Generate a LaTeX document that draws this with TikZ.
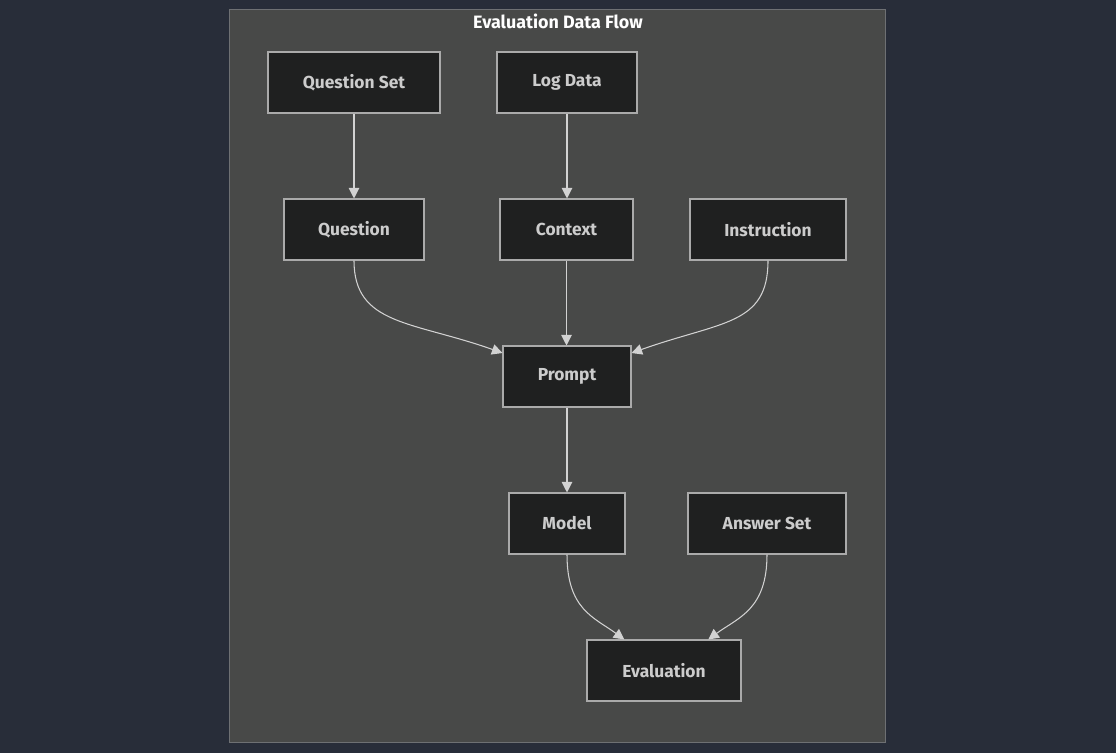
\documentclass[tikz,border=0pt]{standalone}
\usepackage{fontspec}
\setmainfont{Fira Sans}
\usepackage{xcolor}
\definecolor{pagebg}{RGB}{40, 45, 57}
\definecolor{clusterbg}{RGB}{72, 73, 72}
\definecolor{clusterline}{RGB}{110, 112, 115}
\definecolor{boxfill}{RGB}{31, 32, 32}
\definecolor{boxline}{RGB}{170, 170, 170}
\definecolor{boxtext}{RGB}{204, 204, 204}
\definecolor{edgeline}{RGB}{210, 210, 210}
\usepackage{tikz}
\usetikzlibrary{arrows.meta, positioning}

\begin{document}
\begin{tikzpicture}[x=0.02cm, y=-0.02cm,
  flowbox/.style={draw=boxline, fill=boxfill, line width=0.6pt,
              text=boxtext, align=center, minimum height=1.22cm,
              inner sep=0pt, font=\fontsize{9.9}{12}\selectfont\bfseries},
  flowarr/.style={-{Triangle[length=6pt, width=6pt]}, edgeline, line width=0.6pt}
]

  % ── Page and cluster ──
  \useasboundingbox[fill=pagebg] (0,0) rectangle (1116,753);
  \node[draw=clusterline, fill=clusterbg, line width=0.6pt, minimum width=13.14cm,
        minimum height=14.68cm, inner sep=0pt] (cluster) at (557.5,376) {};
  \node[text=white, font=\fontsize{10.2}{12}\selectfont\bfseries] (title) at (558,21) {Evaluation Data Flow};

  % ── Sources ──
  \node[flowbox, minimum width=3.44cm] (qset)   at (354,82.5)  {Question Set};
  \node[flowbox, minimum width=2.80cm] (logd)   at (567,82.5)  {Log Data};

  % ── Prompt parts ──
  \node[flowbox, minimum width=2.80cm] (quest)  at (354,229.5) {Question};
  \node[flowbox, minimum width=2.66cm] (ctx)    at (566.5,229.5) {Context};
  \node[flowbox, minimum width=3.12cm] (instr)  at (768,229.5) {Instruction};
  \node[flowbox, minimum width=2.56cm] (prompt) at (567,376.5) {Prompt};

  % ── Scoring ──
  \node[flowbox, minimum width=2.32cm] (model)  at (567,523.5) {Model};
  \node[flowbox, minimum width=3.16cm] (aset)   at (767,523.5) {Answer Set};
  \node[flowbox, minimum width=3.08cm] (evalu)  at (664,670.5) {Evaluation};

  % ── Arrows ──
  \draw[flowarr] (qset.south) -- (quest.north);
  \draw[flowarr] (logd.south) -- (logd.south |- ctx.north);
  \draw[flowarr] (ctx.south) -- (ctx.south |- prompt.north);
  \draw[flowarr] (prompt.south) -- (model.north);
  \draw[flowarr] (quest.south) .. controls +(0,65) and +(-90,-32) .. (prompt.160);
  \draw[flowarr] (instr.south) .. controls +(0,65) and +(90,-32) .. (prompt.20);
  \draw[flowarr] (model.south) .. controls +(0,55) and +(-30,-22) .. (evalu.142);
  \draw[flowarr] (aset.south) .. controls +(0,55) and +(30,-22) .. (evalu.35);

\end{tikzpicture}
\end{document}
